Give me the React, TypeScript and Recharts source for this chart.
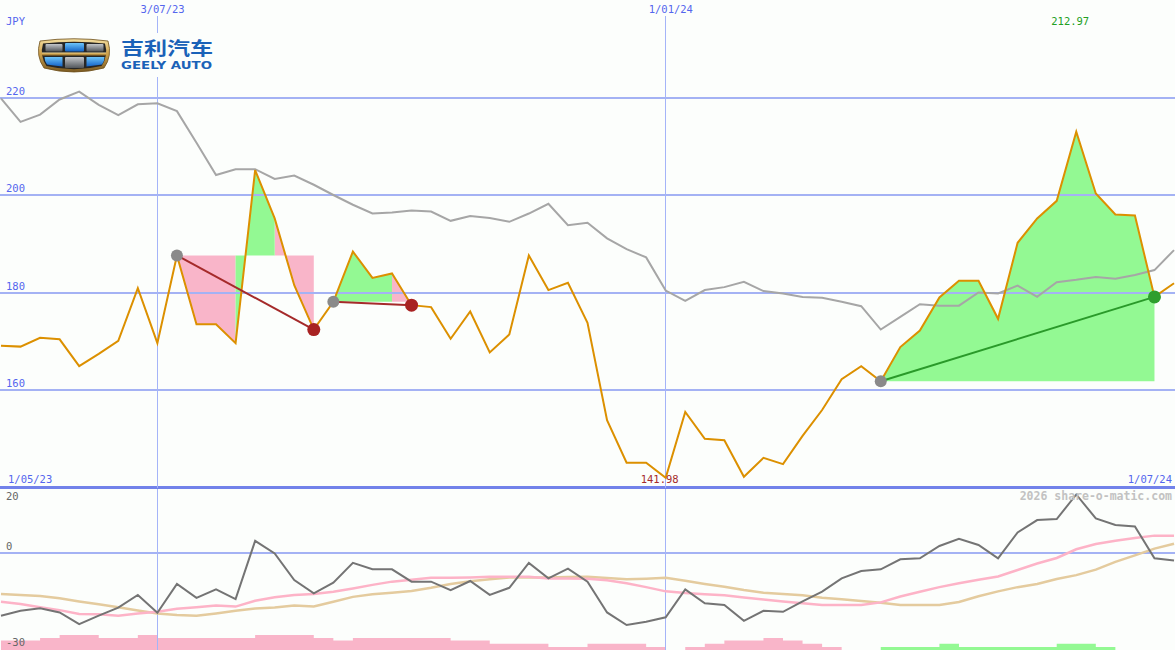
import React from 'react';
import { ComposedChart, Line, Area, XAxis, YAxis, ReferenceLine } from 'recharts';

// ---------- data ----------
const currency = 'JPY';
const rangeStart = '1/05/23';
const rangeEnd = '1/07/24';
const dateMarks = [
  { i: 8, label: '3/07/23' },
  { i: 34, label: '1/01/24' },
];
const priceTicks = [160, 180, 200, 220];

// weekly closing price (orange)
const price = [
  169.1, 168.9, 170.7, 170.4, 164.9, 167.4, 170.1, 180.9, 169.6, 187.6,
  173.5, 173.5, 169.6, 205.1, 195.2, 181.5, 172.4, 178.1, 188.4, 183.0,
  183.9, 177.4, 177.0, 170.5, 176.1, 167.7, 171.4, 187.6, 180.5, 182.0,
  173.8, 153.8, 145.1, 145.1, 141.98, 155.5, 150.0, 149.7, 142.2, 146.1,
  144.8, 150.6, 155.9, 162.2, 164.9, 161.8, 168.8, 172.2, 179.0, 182.4,
  182.4, 174.6, 190.2, 195.2, 198.8, 212.97, 200.3, 196.0, 195.8, 179.1,
  181.9,
];

// comparison line (gray)
const compare = [
  219.8, 215.0, 216.5, 219.6, 221.2, 218.5, 216.4, 218.6, 218.8, 217.2,
  210.7, 204.1, 205.3, 205.3, 203.3, 204.0, 202.1, 200.0, 198.0, 196.2,
  196.4, 196.8, 196.6, 194.7, 195.7, 195.3, 194.5, 196.2, 198.2, 193.8,
  194.3, 191.1, 188.9, 187.2, 180.4, 178.3, 180.5, 181.1, 182.2, 180.3,
  179.8, 179.1, 178.9, 178.1, 177.2, 172.4, 175.0, 177.6, 177.3, 177.3,
  180.0, 179.8, 181.4, 179.1, 182.1, 182.6, 183.2, 182.8, 183.6, 184.6,
  188.7,
];

// trades: start / end week index
const trades = [
  { start: 9, end: 16 },
  { start: 17, end: 21 },
  { start: 45, end: 59 },
];

// lower panel
const momentum = [
  -19.4, -17.9, -17.1, -18.4, -22.0, -19.4, -16.9, -13.0, -18.5, -9.6,
  -13.9, -11.3, -14.3, 3.7, -0.2, -8.4, -12.5, -9.2, -3.1, -5.1,
  -5.1, -8.9, -8.9, -11.5, -8.7, -13.0, -10.8, -3.1, -7.9, -4.9,
  -8.9, -18.4, -22.3, -21.3, -19.9, -11.3, -15.6, -16.1, -21.0, -17.9,
  -18.2, -15.0, -12.0, -7.9, -5.6, -5.1, -2.0, -1.7, 2.1, 4.3,
  2.4, -1.7, 6.3, 10.1, 10.4, 18.0, 10.6, 8.6, 8.1, -1.7,
  -2.4,
];
const maShort = [
  -15.1, -15.8, -16.8, -17.7, -18.9, -19.0, -19.4, -18.7, -18.2, -17.3,
  -16.8, -16.3, -16.6, -14.8, -13.7, -13.0, -12.7, -12.0, -11.0, -9.9,
  -8.9, -8.3, -7.7, -7.7, -7.6, -7.4, -7.4, -7.4, -7.9, -7.9,
  -8.0, -8.5, -9.4, -10.6, -11.9, -12.4, -12.8, -13.1, -13.8, -14.4,
  -15.0, -15.6, -16.1, -16.1, -16.1, -15.3, -13.5, -12.0, -10.6, -9.4,
  -8.3, -7.3, -5.3, -3.3, -1.6, 1.1, 2.7, 3.7, 4.6, 5.3,
  5.3,
];
const maLong = [
  -12.7, -13.0, -13.3, -14.0, -15.0, -15.9, -16.8, -17.8, -18.7, -19.2,
  -19.4, -18.7, -17.9, -17.2, -16.9, -16.3, -16.6, -15.1, -13.6, -12.8,
  -12.3, -11.8, -10.8, -9.6, -8.8, -8.2, -7.6, -7.6, -7.6, -7.5,
  -7.4, -7.8, -8.2, -8.0, -7.7, -8.6, -9.6, -10.5, -11.5, -12.3,
  -12.7, -13.1, -13.9, -14.3, -14.9, -15.4, -16.1, -16.1, -16.1, -15.2,
  -13.4, -11.9, -10.6, -9.6, -8.1, -6.9, -5.2, -2.8, -0.8, 1.3,
  2.8,
];
// signed signal bars (negative = pink, positive = green), height in lower-axis units
const signal = [
  -2.9, -2.9, -3.7, -4.6, -4.6, -3.7, -3.7, -4.6, -3.7, -3.7,
  -3.7, -3.7, -3.7, -4.6, -4.6, -4.6, -3.7, -2.9, -3.7, -3.7,
  -3.7, -3.7, -3.7, -2.9, -2.9, -1.9, -1.9, -1.9, -0.9, -0.9,
  -1.9, -1.9, -1.9, -0.9, 0, -0.9, -1.9, -2.9, -2.9, -3.7,
  -2.9, -1.9, -0.9, 0, 0, 0.9, 0.9, 0.9, 1.9, 0.9,
  0.9, 0.9, 0.9, 0.9, 1.9, 1.9, 0.9, 0, 0, 0,
  0,
];

// ---------- derived tables ----------
const topData: any[] = price.map((p, i) => ({ i, price: p, compare: compare[i] }));
trades.forEach((t, k) => {
  const base = price[t.start];
  const win = price[t.end] >= base;
  for (let j = t.start; j < t.end; j++) {
    const key = price[j + 1] >= base ? 'green' : 'pink';
    topData[j][key] = [base, price[j]];
    topData[j + 1][key] = [base, price[j + 1]];
  }
  topData[t.start]['trade' + k] = base;
  topData[t.end]['trade' + k] = price[t.end];
  topData[t.start].startMark = base;
  topData[t.end][win ? 'winMark' : 'lossMark'] = price[t.end];
});
const minI = price.indexOf(Math.min(...price));
const maxI = price.indexOf(Math.max(...price));

const LOW = -30;
const bottomData = momentum.map((m, i) => ({
  i,
  momentum: m,
  maShort: maShort[i],
  maLong: maLong[i],
  pinkBar: [LOW, LOW + (signal[i] < 0 ? -signal[i] : 0)],
  greenBar: [LOW, LOW + (signal[i] > 0 ? signal[i] : 0)],
}));

// ---------- styles ----------
const BG = '#fcfefc';
const BLUE_TXT = '#5466ee';
const GRID = '#a4b2f4';
const VLINE = '#a4b4f8';
const mono = { fontFamily: '"DejaVu Sans Mono", "Liberation Mono", monospace', fontSize: 10.5 };
const W = 1175;
const X_DOMAIN: [number, number] = [-0.05, 60.05];

const tickLabel = (v: number) => (p: any) => (
  <text x={p.viewBox.x + 6} y={p.viewBox.y - 3} fill={BLUE_TXT} style={mono}>{v}</text>
);
const dateLabel = (s: string) => (p: any) => (
  <text x={p.viewBox.x - 17} y={p.viewBox.y - 3} fill={BLUE_TXT} style={mono}>{s}</text>
);
const rangeLabel = (p: any) => (
  <g>
    <text x={p.viewBox.x + 8} y={p.viewBox.y - 4.5} fill={BLUE_TXT} style={mono}>{rangeStart}</text>
    <text x={p.viewBox.x + p.viewBox.width - 3} y={p.viewBox.y - 4.5} fill={BLUE_TXT} style={mono} textAnchor="end">{rangeEnd}</text>
  </g>
);
const minLabel = (p: any) => (
  <text x={p.viewBox.x - 25} y={p.viewBox.y + p.viewBox.height - 4.5} fill="#a52a2a" style={mono}>{price[minI].toFixed(2)}</text>
);
const maxLabel = (p: any) => (
  <text x={p.viewBox.x - 25} y={p.viewBox.y + 9} fill="#22a022" style={mono}>{price[maxI].toFixed(2)}</text>
);
const lowerLabel = (s: string, dy: number) => (p: any) => (
  <text x={p.viewBox.x + 6} y={p.viewBox.y + dy} fill="#666666" style={mono}>{s}</text>
);

function Logo() {
  return (
    <svg width={192} height={44} style={{ position: 'absolute', left: 30, top: 33 }}>
      <defs>
        <linearGradient id="gold" x1="0" y1="0" x2="0" y2="1">
          <stop offset="0" stopColor="#f4dfa2" />
          <stop offset="0.45" stopColor="#cfa24c" />
          <stop offset="1" stopColor="#7a5a22" />
        </linearGradient>
        <linearGradient id="bluecell" x1="0" y1="0" x2="0" y2="1">
          <stop offset="0" stopColor="#6cc4fa" />
          <stop offset="1" stopColor="#1463c6" />
        </linearGradient>
        <linearGradient id="graycell" x1="0" y1="0" x2="0" y2="1">
          <stop offset="0" stopColor="#c3c6ca" />
          <stop offset="1" stopColor="#52565b" />
        </linearGradient>
      </defs>
      <rect width={192} height={44} fill={BG} />
      <g transform="translate(8,5)">
        <path d="M2,3 Q36,-1.5 70,3 Q74.5,18 66,30 Q36,38 6,30 Q-2.5,18 2,3 Z" fill="url(#gold)" stroke="#6b4c18" strokeWidth={0.8} />
        <path d="M5,5.5 Q36,2 67,5.5 Q70.5,18 63.5,28 Q36,34.5 8.5,28 Q1.5,18 5,5.5 Z" fill="#262626" />
        <rect x={4} y={14.5} width={64} height={3.2} fill="url(#gold)" />
        <rect x={7.5} y={6} width={17} height={7.5} rx={1} fill="url(#graycell)" />
        <rect x={27} y={5} width={19} height={8.5} rx={1} fill="url(#bluecell)" />
        <rect x={48.5} y={6} width={17} height={7.5} rx={1} fill="url(#graycell)" />
        <path d="M6.5,19 L24.5,19 L24.5,28.5 Q15,27.5 9,26.5 Q6.5,23 6.5,19 Z" fill="url(#bluecell)" />
        <rect x={27} y={19} width={19} height={11} rx={1} fill="url(#graycell)" />
        <path d="M48.5,19 L66.5,19 Q66.5,23 64,26.5 Q57,27.5 48.5,28.5 Z" fill="url(#bluecell)" />
      </g>
      <text x={91} y={22} fill="#1a62b8" fontWeight={700} textLength={92} lengthAdjust="spacingAndGlyphs"
        style={{ fontFamily: '"Noto Sans CJK SC", sans-serif', fontSize: 18 }}>吉利汽车</text>
      <text x={91} y={36} fill="#1a62b8" fontWeight={700} textLength={91} lengthAdjust="spacingAndGlyphs"
        style={{ fontFamily: '"DejaVu Sans", sans-serif', fontSize: 11 }}>GEELY AUTO</text>
    </svg>
  );
}

export default function App() {
  return (
    <div style={{ position: 'absolute', left: 0, top: 0, width: W, height: 650, background: BG, overflow: 'hidden' }}>
      <style>{'body{margin:0;background:' + BG + ';}'}</style>

      {/* lower panel */}
      <div style={{ position: 'absolute', left: 0, top: 488 }}>
        <ComposedChart width={W} height={162} data={bottomData} margin={{ top: 0, right: 0, bottom: 0, left: 0 }}>
          <XAxis type="number" dataKey="i" domain={X_DOMAIN} hide allowDataOverflow />
          <YAxis type="number" domain={[LOW, 20]} hide allowDataOverflow />
          <ReferenceLine y={0} stroke={GRID} strokeWidth={2} shapeRendering="crispEdges" label={lowerLabel('0', -3)} />
          <ReferenceLine y={20} stroke="none" label={lowerLabel('20', 12)} />
          <ReferenceLine y={LOW} stroke="none" label={lowerLabel('-30', -4)} />
          {dateMarks.map((d) => (
            <ReferenceLine key={d.label} x={d.i} stroke={VLINE} strokeWidth={1} shapeRendering="crispEdges" />
          ))}
          <Area dataKey="pinkBar" type="stepAfter" stroke="none" fill="#f9b5c9" fillOpacity={1} isAnimationActive={false} />
          <Area dataKey="greenBar" type="stepAfter" stroke="none" fill="#93f993" fillOpacity={1} isAnimationActive={false} />
          <Line dataKey="maLong" stroke="#e4cb9e" strokeWidth={2.5} dot={false} activeDot={false} isAnimationActive={false} />
          <Line dataKey="maShort" stroke="#fdb3c7" strokeWidth={2.5} dot={false} activeDot={false} isAnimationActive={false} />
          <Line dataKey="momentum" stroke="#747474" strokeWidth={2} dot={false} activeDot={false} isAnimationActive={false} />
        </ComposedChart>
      </div>

      {/* price panel */}
      <div style={{ position: 'absolute', left: 0, top: 0 }}>
        <ComposedChart width={W} height={489} data={topData} margin={{ top: 16, right: 0, bottom: 1.5, left: 0 }}>
          <XAxis type="number" dataKey="i" domain={X_DOMAIN} hide allowDataOverflow />
          <YAxis type="number" domain={[140, 236.72]} hide allowDataOverflow />
          {priceTicks.map((v) => (
            <ReferenceLine key={v} y={v} stroke={GRID} strokeWidth={2} shapeRendering="crispEdges" label={tickLabel(v)} />
          ))}
          <ReferenceLine y={140} stroke="#7282ea" strokeWidth={3} label={rangeLabel} />
          {dateMarks.map((d) => (
            <ReferenceLine key={d.label} x={d.i} stroke={VLINE} strokeWidth={1} shapeRendering="crispEdges" label={dateLabel(d.label)} />
          ))}
          <Area dataKey="pink" stroke="none" fill="#f9b5c9" fillOpacity={1} isAnimationActive={false} />
          <Area dataKey="green" stroke="none" fill="#93f993" fillOpacity={1} isAnimationActive={false} />
          <Line dataKey="compare" stroke="#a6a6a6" strokeWidth={2} dot={false} activeDot={false} isAnimationActive={false} />
          <Line dataKey="price" stroke="#dc9000" strokeWidth={2} dot={false} activeDot={false} isAnimationActive={false} />
          {trades.map((t, k) => (
            <Line key={k} dataKey={'trade' + k} connectNulls stroke={price[t.end] >= price[t.start] ? '#2a9a2a' : '#a52a2a'}
              strokeWidth={2} dot={false} activeDot={false} isAnimationActive={false} />
          ))}
          <Line dataKey="startMark" stroke="none" dot={{ r: 6, fill: '#8a8a8a', stroke: 'none' }} activeDot={false} isAnimationActive={false} />
          <Line dataKey="lossMark" stroke="none" dot={{ r: 6.5, fill: '#a82222', stroke: 'none' }} activeDot={false} isAnimationActive={false} />
          <Line dataKey="winMark" stroke="none" dot={{ r: 6.5, fill: '#2e9e2e', stroke: 'none' }} activeDot={false} isAnimationActive={false} />
          <ReferenceLine x={minI} stroke="none" label={minLabel} />
          <ReferenceLine x={maxI} stroke="none" label={maxLabel} />
        </ComposedChart>
      </div>

      <svg width={W} height={650} style={{ position: 'absolute', left: 0, top: 0, pointerEvents: 'none' }}>
        <text x={6} y={25} fill={BLUE_TXT} style={mono}>{currency}</text>
        <text x={1172} y={500} fill="#c2c2c2" fontWeight={700} textAnchor="end"
          style={{ fontFamily: '"DejaVu Sans Mono", monospace', fontSize: 11.5 }}>2026 share-o-matic.com</text>
      </svg>
      <Logo />
    </div>
  );
}
